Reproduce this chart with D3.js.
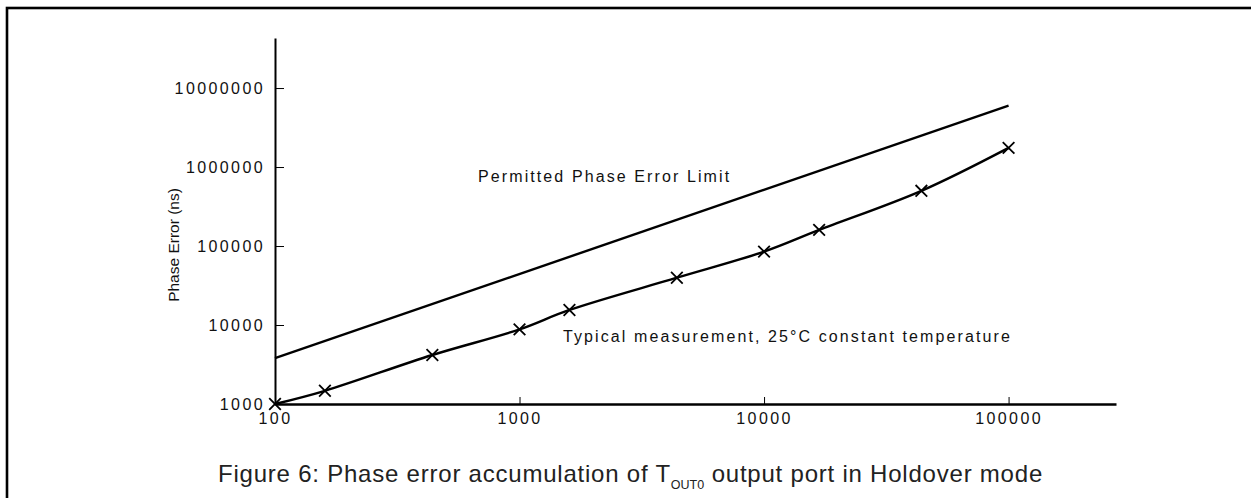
<!DOCTYPE html>
<html>
<head>
<meta charset="utf-8">
<script src="https://cdn.jsdelivr.net/npm/d3@7"></script>
<style>
  body { margin: 0; background: #fff; }
  svg text { font-family: "Liberation Sans", Arial, sans-serif; fill: #111; }
  .axis path, .axis line { stroke: #000; }
  .axis text { font-size: 16px; letter-spacing: 2.4px; }
</style>
</head>
<body>
<div id="chart"></div>
<script>
// elapsed time (s) vs phase error (ns)
var limitTime = [100, 100000];
var limitError = [3800, 6000000];

var measTime = [100, 160, 440, 1000, 1600, 4400, 10000, 16800, 44000, 100000];
var measError = [1000, 1470, 4170, 8800, 15500, 39700, 85000, 160000, 500000, 1750000];

var xTicks = [100, 1000, 10000, 100000];
var yTicks = [1000, 10000, 100000, 1000000, 10000000];

var W = 1251, H = 498;

var svg = d3.select("#chart").append("svg")
    .attr("width", W)
    .attr("height", H);

// page frame, only top and left edges show
svg.append("rect")
    .attr("x", 7).attr("y", 8)
    .attr("width", W + 20).attr("height", H + 20)
    .attr("fill", "none")
    .attr("stroke", "#000")
    .attr("stroke-width", 2.6);

var x = d3.scaleLog().domain([100, 275000]).range([275, 1116]);
var y = d3.scaleLog().domain([1000, 4.3e7]).range([404, 38]);

var xAxis = svg.append("g")
    .attr("class", "axis")
    .attr("transform", "translate(0,404)")
    .call(d3.axisBottom(x)
        .tickValues(xTicks)
        .tickFormat(d3.format("d"))
        .tickSizeInner(-7)
        .tickSizeOuter(0)
        .tickPadding(9));
xAxis.select(".domain").attr("stroke-width", 2.6);
xAxis.selectAll(".tick line").attr("stroke-width", 1);

var yAxis = svg.append("g")
    .attr("class", "axis")
    .attr("transform", "translate(275,0)")
    .call(d3.axisLeft(y)
        .tickValues(yTicks)
        .tickFormat(d3.format("d"))
        .tickSizeInner(-9)
        .tickSizeOuter(0)
        .tickPadding(10));
yAxis.select(".domain").attr("stroke-width", 2);
yAxis.selectAll(".tick line").attr("stroke-width", 1);

svg.append("text")
    .attr("transform", "translate(179,245) rotate(-90)")
    .attr("text-anchor", "middle")
    .style("font-size", "15.5px")
    .text("Phase Error (ns)");

var limit = limitTime.map(function(t, i) { return [t, limitError[i]]; });
var meas = measTime.map(function(t, i) { return [t, measError[i]]; });

var line = d3.line()
    .x(function(d) { return x(d[0]); })
    .y(function(d) { return y(d[1]); });

svg.append("path")
    .datum(limit)
    .attr("fill", "none")
    .attr("stroke", "#000")
    .attr("stroke-width", 2.4)
    .attr("d", line);

svg.append("path")
    .datum(meas)
    .attr("fill", "none")
    .attr("stroke", "#000")
    .attr("stroke-width", 2.4)
    .attr("d", line.curve(d3.curveCatmullRom.alpha(0.5)));

// x markers on the measured points
var cross = d3.symbol().type(d3.symbolTimes).size(90);
svg.selectAll(".pt")
    .data(meas)
    .enter().append("path")
    .attr("class", "pt")
    .attr("transform", function(d) { return "translate(" + x(d[0]) + "," + y(d[1]) + ")"; })
    .attr("d", cross)
    .attr("fill", "none")
    .attr("stroke", "#000")
    .attr("stroke-width", 1.8);

svg.append("text")
    .attr("x", 478).attr("y", 182)
    .style("font-size", "16px")
    .style("letter-spacing", "2.1px")
    .text("Permitted Phase Error Limit");

svg.append("text")
    .attr("x", 563).attr("y", 342)
    .style("font-size", "16px")
    .style("letter-spacing", "2.1px")
    .text("Typical measurement, 25°C constant temperature");

var cap = svg.append("text")
    .attr("x", 218).attr("y", 482)
    .style("font-size", "24px")
    .style("letter-spacing", "0.78px")
    .style("fill", "#222");
cap.append("tspan").text("Figure 6: Phase error accumulation of T");
cap.append("tspan").attr("dy", 7).style("font-size", "12.5px").style("letter-spacing", "0px").text("OUT0");
cap.append("tspan").attr("dy", -7).text(" output port in Holdover mode");
</script>
</body>
</html>
